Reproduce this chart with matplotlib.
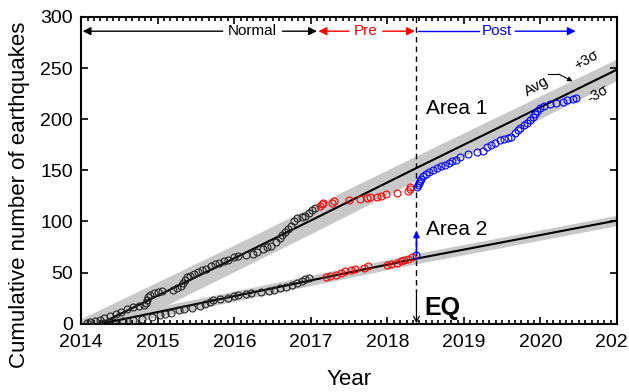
import matplotlib
matplotlib.use('Agg')
import matplotlib.pyplot as plt
from matplotlib.ticker import MultipleLocator

plt.rcParams['font.family'] = ['Liberation Sans', 'DejaVu Sans']

eq_year = 2018.38

# Area 1 events (year, cumulative count)
a1_normal_x = [2014.08, 2014.12, 2014.18, 2014.25, 2014.3, 2014.38, 2014.45, 2014.52, 2014.6,
               2014.68, 2014.75, 2014.82, 2014.85, 2014.86, 2014.87, 2014.9, 2014.95, 2015.0,
               2015.05, 2015.2, 2015.25, 2015.3, 2015.33, 2015.36, 2015.38, 2015.42, 2015.48,
               2015.53, 2015.58, 2015.63, 2015.7, 2015.75, 2015.8, 2015.86, 2015.92, 2016.0,
               2016.05, 2016.15, 2016.25, 2016.3, 2016.38, 2016.43, 2016.48, 2016.55, 2016.6,
               2016.63, 2016.66, 2016.7, 2016.74, 2016.78, 2016.82, 2016.88, 2016.93, 2016.98,
               2017.02, 2017.06]
a1_normal_y = [1, 2, 3, 4, 6, 8, 10, 12, 14,
               16, 17, 18, 20, 23, 26, 28, 30, 31,
               32, 33, 35, 37, 40, 43, 46, 47, 49,
               51, 53, 54, 56, 58, 59, 61, 62, 65,
               66, 67, 68, 70, 73, 75, 76, 80, 84,
               87, 90, 93, 96, 100, 103, 104, 105, 108,
               111, 113]
a1_pre_x = [2017.12, 2017.14, 2017.16, 2017.28, 2017.3, 2017.5, 2017.64, 2017.73, 2017.77,
            2017.86, 2017.92, 2017.98, 2018.12, 2018.27, 2018.29, 2018.3]
a1_pre_y = [115, 117, 118, 118.5, 120, 121, 121.5, 122.5, 123.5,
            124, 125, 126.5, 128, 130, 132, 134]
a1_post_x = [2018.39, 2018.4, 2018.41, 2018.42, 2018.44, 2018.46, 2018.5, 2018.55, 2018.6,
             2018.65, 2018.7, 2018.75, 2018.8, 2018.85, 2018.9, 2018.95, 2019.05, 2019.17,
             2019.25, 2019.3, 2019.35, 2019.4, 2019.47, 2019.52, 2019.57, 2019.62, 2019.67,
             2019.7, 2019.73, 2019.78, 2019.82, 2019.86, 2019.9, 2019.93, 2019.96, 2019.99,
             2020.05, 2020.12, 2020.2, 2020.29, 2020.35, 2020.42, 2020.46]
a1_post_y = [134, 136, 138, 140, 142, 144, 146, 148, 150,
             152, 154, 155, 157, 159, 160, 163, 166, 168,
             169, 173, 175, 177, 180, 181, 182, 183, 186,
             189, 191, 194, 196, 199, 202, 205, 208, 211,
             213, 215, 216, 217, 219, 220, 221]

# Area 2 events
a2_normal_x = [2014.3, 2014.42, 2014.55, 2014.68, 2014.8, 2014.92, 2015.03, 2015.1, 2015.18,
               2015.28, 2015.35, 2015.45, 2015.55, 2015.62, 2015.68, 2015.72, 2015.82, 2015.92,
               2016.0, 2016.05, 2016.15, 2016.22, 2016.35, 2016.45, 2016.52, 2016.6, 2016.68,
               2016.75, 2016.82, 2016.88, 2016.93, 2016.97]
a2_normal_y = [1, 2, 3, 4, 5, 7, 9, 10, 11,
               13, 14, 15, 17, 19, 21, 23, 24, 25,
               27, 28, 29, 30, 31, 32, 33, 35, 36,
               38, 40, 42, 44, 45]
a2_pre_x = [2017.2, 2017.25, 2017.33, 2017.4, 2017.45, 2017.52, 2017.58, 2017.7, 2017.75,
            2018.0, 2018.05, 2018.12, 2018.18, 2018.22, 2018.27, 2018.32]
a2_pre_y = [46, 47, 48, 50, 52, 53, 54, 55, 56,
            57, 58, 59, 61, 62, 63, 65]
a2_post_x = [2018.38]
a2_post_y = [67]

# average rates and +-3 sigma bands
avg1_x = [2014.0, 2015.0, 2016.0, 2017.0, 2018.4, 2021.0]
avg1_y = [-9, 27.5, 64, 101, 153, 248.5]
band1_hi = [5, 41, 77, 114, 165, 259]
band1_lo = [-23, 14, 51, 88, 141, 238]
avg2_x = [2014.0, 2016.0, 2018.4, 2021.0]
avg2_y = [-4, 27, 64, 101]
band2_hi = [1, 32, 69, 106]
band2_lo = [-9, 22, 59, 96]

fig = plt.figure(figsize=(6.29, 3.92), dpi=100)
ax = fig.add_axes([0.129, 0.174, 0.852, 0.783])

ax.fill_between(avg1_x, band1_lo, band1_hi, color='#c8c8c8', lw=0, zorder=1)
ax.fill_between(avg2_x, band2_lo, band2_hi, color='#c8c8c8', lw=0, zorder=1)
ax.plot(avg1_x, avg1_y, color='k', lw=1.5, zorder=2)
ax.plot(avg2_x, avg2_y, color='k', lw=1.5, zorder=2)

mk = dict(ls='none', marker='o', ms=5, mfc='none', mew=0.8, zorder=3)
ax.plot(a1_normal_x, a1_normal_y, mec='#222222', **mk)
ax.plot(a2_normal_x, a2_normal_y, mec='#222222', **mk)
ax.plot(a1_pre_x, a1_pre_y, mec='red', **mk)
ax.plot(a2_pre_x, a2_pre_y, mec='red', **mk)
ax.plot(a1_post_x, a1_post_y, mec='blue', **mk)
ax.plot(a2_post_x, a2_post_y, mec='blue', **mk)

# earthquake marker
ax.plot([eq_year, eq_year], [300, 32], color='k', ls=(0, (4, 3)), lw=1, zorder=2)
ax.annotate('', xy=(eq_year, 0.5), xytext=(eq_year, 33),
            arrowprops=dict(arrowstyle='->', color='k', lw=0.9, shrinkA=0, shrinkB=0))
ax.text(eq_year + 0.1, 15, 'EQ', fontsize=18, fontweight='bold', va='center', ha='left')
ax.annotate('', xy=(eq_year, 91), xytext=(eq_year, 68),
            arrowprops=dict(arrowstyle='-|>', color='blue', lw=1.2, mutation_scale=9,
                            shrinkA=0, shrinkB=0))

ax.text(2018.5, 210, 'Area 1', fontsize=15, va='center', ha='left')
ax.text(2018.5, 92, 'Area 2', fontsize=15, va='center', ha='left')

# period arrows
ya = 286
arr = dict(arrowstyle='-|>', lw=1, mutation_scale=12, shrinkA=0, shrinkB=0)
ax.text(2016.24, ya, 'Normal', fontsize=11, ha='center', va='center')
ax.annotate('', xy=(2014.02, ya), xytext=(2015.85, ya), arrowprops=dict(color='k', **arr))
ax.annotate('', xy=(2017.08, ya), xytext=(2016.63, ya), arrowprops=dict(color='k', **arr))
ax.text(2017.72, ya, 'Pre', fontsize=11, ha='center', va='center', color='red')
ax.annotate('', xy=(2017.1, ya), xytext=(2017.5, ya), arrowprops=dict(color='red', **arr))
ax.annotate('', xy=(2018.36, ya), xytext=(2017.94, ya), arrowprops=dict(color='red', **arr))
ax.text(2019.43, ya, 'Post', fontsize=11, ha='center', va='center', color='blue')
ax.plot([2018.4, 2019.2], [ya, ya], color='blue', lw=1)
ax.annotate('', xy=(2020.46, ya), xytext=(2019.67, ya), arrowprops=dict(color='blue', **arr))

# sigma labels
ax.text(2019.95, 232, 'Avg', fontsize=11, rotation=30, ha='center', va='center')
ax.plot([2020.1, 2020.24], [244, 244], color='k', lw=0.8)
ax.annotate('', xy=(2020.42, 237), xytext=(2020.24, 244),
            arrowprops=dict(arrowstyle='-|>', color='k', lw=0.8, mutation_scale=7,
                            shrinkA=0, shrinkB=0))
ax.text(2020.6, 258, '+3σ', fontsize=10.5, rotation=30, ha='center', va='center')
ax.text(2020.75, 225, '-3σ', fontsize=10.5, rotation=30, ha='center', va='center')

ax.set_xlim(2014, 2021)
ax.set_ylim(0, 300)
ax.xaxis.set_major_locator(MultipleLocator(1))
ax.xaxis.set_minor_locator(MultipleLocator(1 / 12))
ax.yaxis.set_major_locator(MultipleLocator(50))
ax.tick_params(which='both', direction='in', top=True, right=True, width=1.2)
ax.tick_params(which='major', length=5, labelsize=14)
ax.tick_params(axis='x', which='major', pad=7)
ax.tick_params(axis='y', which='major', pad=6)
ax.tick_params(which='minor', length=3)
for s in ax.spines.values():
    s.set_linewidth(1.5)

ax.set_xlabel('Year', fontsize=16, labelpad=13)
ax.set_ylabel('Cumulative number of earthquakes', fontsize=16)
ax.yaxis.set_label_coords(-0.095, 0.42)

fig.savefig('out.png', dpi=100)
